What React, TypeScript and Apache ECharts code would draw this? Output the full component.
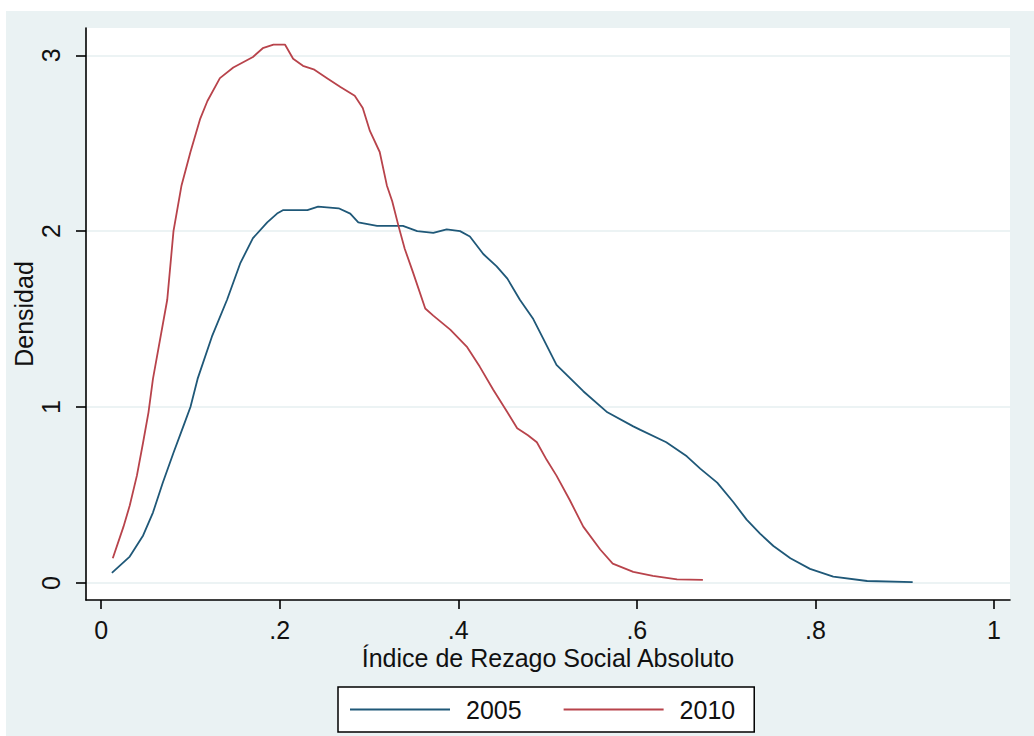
import React, { useEffect, useRef } from "react";
import * as echarts from "echarts";

// 2005 kernel density
const x2005 = [0.012, 0.032, 0.047, 0.058, 0.069, 0.081, 0.092, 0.100, 0.108, 0.124, 0.141, 0.156, 0.170, 0.186, 0.197, 0.204, 0.223, 0.231, 0.243, 0.266, 0.279, 0.288, 0.309, 0.338, 0.354, 0.372, 0.387, 0.402, 0.413, 0.428, 0.443, 0.455, 0.469, 0.484, 0.495, 0.510, 0.540, 0.567, 0.596, 0.604, 0.633, 0.656, 0.671, 0.690, 0.708, 0.723, 0.738, 0.753, 0.772, 0.794, 0.820, 0.858, 0.909];
const y2005 = [0.057, 0.15, 0.27, 0.40, 0.57, 0.74, 0.89, 1.00, 1.16, 1.40, 1.61, 1.82, 1.96, 2.05, 2.10, 2.12, 2.12, 2.12, 2.14, 2.13, 2.10, 2.05, 2.03, 2.03, 2.00, 1.99, 2.01, 2.00, 1.97, 1.87, 1.80, 1.73, 1.61, 1.50, 1.39, 1.24, 1.09, 0.97, 0.89, 0.87, 0.80, 0.72, 0.65, 0.57, 0.46, 0.36, 0.28, 0.21, 0.14, 0.08, 0.036, 0.011, 0.005];

// 2010 kernel density
const x2010 = [0.013, 0.025, 0.032, 0.040, 0.047, 0.053, 0.058, 0.074, 0.081, 0.090, 0.100, 0.111, 0.119, 0.133, 0.148, 0.170, 0.181, 0.193, 0.206, 0.215, 0.226, 0.238, 0.253, 0.268, 0.284, 0.293, 0.301, 0.312, 0.320, 0.326, 0.333, 0.340, 0.349, 0.363, 0.372, 0.391, 0.410, 0.424, 0.439, 0.455, 0.466, 0.478, 0.488, 0.499, 0.510, 0.525, 0.540, 0.559, 0.573, 0.596, 0.618, 0.645, 0.674];
const y2010 = [0.14, 0.32, 0.44, 0.61, 0.80, 0.97, 1.16, 1.61, 2.00, 2.26, 2.45, 2.64, 2.74, 2.87, 2.93, 2.99, 3.04, 3.06, 3.06, 2.98, 2.94, 2.92, 2.87, 2.82, 2.77, 2.70, 2.57, 2.45, 2.26, 2.17, 2.03, 1.90, 1.77, 1.56, 1.52, 1.44, 1.34, 1.23, 1.10, 0.97, 0.88, 0.84, 0.80, 0.70, 0.61, 0.47, 0.32, 0.19, 0.11, 0.063, 0.04, 0.02, 0.017];

const xTickValues = [0, 0.2, 0.4, 0.6, 0.8, 1];
const xTickLabels = ["0", ".2", ".4", ".6", ".8", "1"];
const yTickValues = [0, 1, 2, 3];
const yTickLabels = ["0", "1", "2", "3"];

const seriesNames = ["2005", "2010"];
const seriesColors = ["#1f5878", "#b8434b"];

const FONT = "'Liberation Sans', Arial, sans-serif";

function pairs(xs: number[], ys: number[]) {
  return xs.map((x, i) => [x, ys[i]]);
}

export default function App() {
  const ref = useRef<HTMLDivElement>(null);
  useEffect(() => {
    if (!ref.current) return;
    const chart = echarts.init(ref.current, undefined, { renderer: "svg" });
    chart.setOption({
      animation: false,
      backgroundColor: "#eaf2f3",
      textStyle: { fontFamily: FONT },
      grid: {
        left: 80,
        top: 17,
        width: 924,
        height: 572,
        show: true,
        backgroundColor: "#ffffff",
        borderWidth: 0,
        containLabel: false,
        outerBoundsMode: "none",
      },
      xAxis: {
        type: "value",
        min: -0.017,
        max: 1.018,
        name: "Índice de Rezago Social Absoluto",
        nameLocation: "middle",
        nameGap: 45,
        nameMoveOverlap: false,
        nameTextStyle: { fontSize: 25, color: "#111", fontFamily: FONT },
        axisLine: { show: true, onZero: false, lineStyle: { color: "#000", width: 1.6 } },
        axisTick: { show: true, length: 9, customValues: xTickValues, lineStyle: { color: "#000", width: 1.6 } },
        axisLabel: {
          show: true,
          customValues: xTickValues,
          margin: 17,
          fontSize: 25,
          color: "#111",
          fontFamily: FONT,
          formatter: (v: number) => {
            const i = xTickValues.findIndex((t) => Math.abs(t - v) < 1e-9);
            return i >= 0 ? xTickLabels[i] : "";
          },
        },
        splitLine: { show: false },
      },
      yAxis: {
        type: "value",
        min: -0.097,
        max: 3.155,
        name: "Densidad",
        nameLocation: "middle",
        nameGap: 50,
        nameMoveOverlap: false,
        nameRotate: 90,
        nameTextStyle: { fontSize: 25, color: "#111", fontFamily: FONT },
        axisLine: { show: true, onZero: false, lineStyle: { color: "#000", width: 1.6 } },
        axisTick: { show: true, length: 10, customValues: yTickValues, lineStyle: { color: "#000", width: 1.6 } },
        axisLabel: {
          show: true,
          customValues: yTickValues,
          rotate: 90,
          margin: 23,
          fontSize: 25,
          color: "#111",
          fontFamily: FONT,
          formatter: (v: number) => {
            const i = yTickValues.findIndex((t) => Math.abs(t - v) < 1e-9);
            return i >= 0 ? yTickLabels[i] : "";
          },
        },
        splitLine: { show: true, lineStyle: { color: "#e6eff0", width: 1.5 } },
      },
      legend: {
        left: 332,
        top: 676,
        orient: "horizontal",
        backgroundColor: "#ffffff",
        borderColor: "#000",
        borderWidth: 1.5,
        borderRadius: 0,
        padding: [10, 19, 10, 12],
        icon: "rect",
        itemWidth: 100,
        itemHeight: 2,
        itemGap: 42,
        textStyle: { fontSize: 25, color: "#111", fontFamily: FONT, padding: [0, 0, 0, 11] },
        data: seriesNames,
      },
      series: [
        {
          name: seriesNames[0],
          type: "line",
          data: pairs(x2005, y2005),
          symbol: "none",
          showSymbol: false,
          lineStyle: { color: seriesColors[0], width: 1.8 },
          itemStyle: { color: seriesColors[0] },
        },
        {
          name: seriesNames[1],
          type: "line",
          data: pairs(x2010, y2010),
          symbol: "none",
          showSymbol: false,
          lineStyle: { color: seriesColors[1], width: 1.8 },
          itemStyle: { color: seriesColors[1] },
        },
      ],
    });
    return () => chart.dispose();
  }, []);
  return (
    <div
      ref={ref}
      style={{ position: "absolute", left: 6, top: 11, width: 1028, height: 725 }}
    />
  );
}
